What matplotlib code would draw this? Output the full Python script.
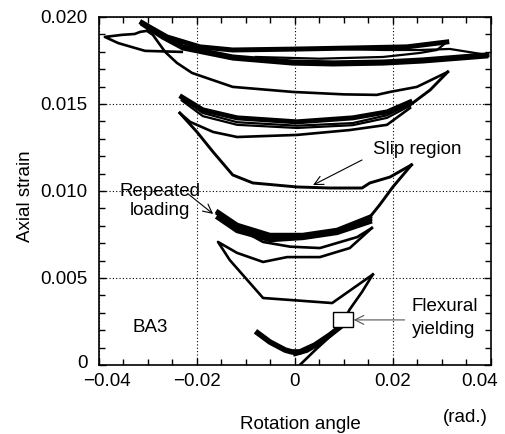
import matplotlib.pyplot as plt
from matplotlib.patches import Rectangle
from matplotlib.ticker import MultipleLocator
from matplotlib.transforms import ScaledTranslation

plt.rcParams['font.family'] = ['Liberation Sans', 'DejaVu Sans']

# Erstbelastung bis Fliessen
load_x = [0.0008, 0.0010, 0.0043, 0.0078, 0.0098, 0.0112, 0.0137, 0.0159]
load_y = [-0.0002, 0.0, 0.0009, 0.0018, 0.0025, 0.0032, 0.0042, 0.0052]

# erster Zyklus (negativ und zurueck)
cyc1_x = [0.0159, 0.0076, -0.0065, -0.0133, -0.0157, -0.0118, -0.0065, -0.0016,
          0.0051, 0.0112, 0.0157]
cyc1_y = [0.0052, 0.00356, 0.00385, 0.00603, 0.00707, 0.00644, 0.00592, 0.0062,
          0.0062, 0.00672, 0.00787]
cyc2_x = [0.0157, 0.0127, 0.0051, -0.0010, -0.0065, -0.0102, -0.0143, -0.0157]
cyc2_y = [0.00787, 0.00735, 0.00672, 0.0068, 0.00707, 0.00764, 0.00845, 0.00874]

# wiederholte Belastung (dickes Band)
rep_x = [-0.0157, -0.0118, -0.0051, 0.0016, 0.0086, 0.0153]
rep_top = [0.00879, 0.00805, 0.00747, 0.00747, 0.00776, 0.00851]
rep_mid = [0.00870, 0.00788, 0.00733, 0.00738, 0.00768, 0.00837]
rep_bot = [0.00845, 0.0077, 0.00718, 0.0073, 0.00759, 0.00822]

# Uebergang und Schlupfbereich
up1_x = [0.0153, 0.0173, 0.0200, 0.0238]
up1_y = [0.0085, 0.0092, 0.01023, 0.0115]
slip_x = [0.0238, 0.0194, 0.0153, 0.0137, 0.0071, 0.0004, -0.0086, -0.0127,
          -0.0167, -0.0200, -0.0235]
slip_y = [0.0115, 0.0108, 0.01046, 0.01017, 0.01017, 0.01023, 0.01046, 0.01092,
          0.01224, 0.01339, 0.01448]

# Gruppe bei 0.014
low2_x = [-0.0235, -0.0214, -0.0167, -0.0118, 0.0004, 0.0112, 0.0188, 0.0235]
low2_y = [0.01448, 0.01397, 0.01339, 0.0131, 0.01322, 0.0135, 0.0138, 0.01477]
grp2_x = [-0.0231, -0.0188, -0.0118, 0.0004, 0.0118, 0.0188, 0.0235]
grp2_top = [0.0154, 0.01466, 0.0142, 0.01397, 0.0142, 0.01454, 0.01511]
grp2_mid = [0.0153, 0.01448, 0.01395, 0.01375, 0.0139, 0.01435, 0.01500]
grp2_bot = [0.0152, 0.0143, 0.0138, 0.01362, 0.01378, 0.01420, 0.01490]

# Uebergang zur Kurve bei 0.016
up2_x = [0.0235, 0.0276, 0.0312]
up2_y = [0.01494, 0.0158, 0.01684]
mid3_x = [0.0312, 0.0249, 0.0194, 0.0167, 0.0100, -0.0004, -0.0127, -0.0210,
          -0.0241, -0.0265, -0.0290, -0.0302]
mid3_y = [0.01684, 0.01598, 0.01569, 0.01552, 0.01555, 0.01569, 0.01598, 0.01678,
          0.01736, 0.01799, 0.01897, 0.0192]

# kleine Schleife links oben
loop_x = [-0.0302, -0.0316, -0.0327, -0.0353, -0.0388, -0.0361, -0.0327, -0.0306, -0.0231]
loop_y = [0.0192, 0.01914, 0.01902, 0.01897, 0.01885, 0.0185, 0.01822, 0.01805, 0.01799]

# oberste Gruppe
top_up_x = [-0.0312, -0.0261, -0.0194, -0.0127, -0.0004, 0.0127, 0.0229, 0.0310]
top_up_y = [0.01966, 0.01885, 0.01828, 0.0181, 0.01815, 0.01822, 0.01828, 0.01856]
top_lo_x = [-0.0312, -0.0270, -0.0229, -0.0127, -0.0004, 0.0078, 0.0180, 0.0261, 0.0392]
top_lo_y = [0.01966, 0.0189, 0.01828, 0.0177, 0.01741, 0.01736, 0.01741, 0.01753, 0.01782]
ret1_x = [0.0310, 0.0290, 0.0255, 0.0180, 0.0050, -0.0080]
ret1_y = [0.01856, 0.0181, 0.01793, 0.0177, 0.0176, 0.0177]
ret2_x = [0.0392, 0.0316, 0.0255, 0.0180, 0.0100]
ret2_y = [0.01782, 0.01816, 0.0181, 0.0181, 0.01815]

# Anfang (dicker Bogen unten)
base_x = [-0.0076, -0.0051, -0.0020, -0.0006, 0.0010, 0.0041, 0.0071, 0.0092]
base_y = [0.00184, 0.00132, 0.00086, 0.00075, 0.00075, 0.00115, 0.00172, 0.00218]
base2_x = [0.0000, 0.0025, 0.0055, 0.0085]
base2_y = [0.0006, 0.0008, 0.0013, 0.0020]

# Fliesspunkt
yield_x = 0.0098
yield_y = 0.00259

fig = plt.figure(figsize=(5.05, 4.34), dpi=100)
ax = fig.add_axes([0.196, 0.159, 0.776, 0.802])

k = 'black'
thin = 1.9
ax.plot(load_x, load_y, color=k, lw=thin)
ax.plot(cyc1_x, cyc1_y, color=k, lw=thin)
ax.plot(cyc2_x, cyc2_y, color=k, lw=thin)
ax.plot(rep_x, rep_top, color=k, lw=3.2)
ax.plot(rep_x, rep_mid, color=k, lw=3.2)
ax.plot(rep_x, rep_bot, color=k, lw=3.2)
ax.plot(up1_x, up1_y, color=k, lw=2.1)
ax.plot(slip_x, slip_y, color=k, lw=2.1)
ax.plot(low2_x, low2_y, color=k, lw=thin)
ax.plot(grp2_x, grp2_top, color=k, lw=3.6)
ax.plot(grp2_x, grp2_mid, color=k, lw=1.6)
ax.plot(grp2_x, grp2_bot, color=k, lw=1.6)
ax.plot(up2_x, up2_y, color=k, lw=2.1)
ax.plot(mid3_x, mid3_y, color=k, lw=thin)
ax.plot(loop_x, loop_y, color=k, lw=thin)
ax.plot(top_up_x, top_up_y, color=k, lw=3.6)
ax.plot(top_lo_x, top_lo_y, color=k, lw=3.6)
ax.plot(top_lo_x, [v - 0.00012 for v in top_lo_y], color=k, lw=2.2)
ax.plot(ret1_x, ret1_y, color=k, lw=1.6)
ax.plot(ret2_x, ret2_y, color=k, lw=1.6)
ax.plot(base_x, base_y, color=k, lw=4.0)
ax.plot(base2_x, base2_y, color=k, lw=2.5)

# Kaestchen fuer Fliessbeginn
ax.add_patch(Rectangle((yield_x - 0.00205, yield_y - 0.00043), 0.0041, 0.00086,
                       facecolor='white', edgecolor=k, lw=1.0, zorder=5))

ax.set_xlim(-0.04, 0.04)
ax.set_ylim(0, 0.020)
ax.set_xticks([-0.04, -0.02, 0, 0.02, 0.04])
ax.set_xticklabels(['\u22120.04', '\u22120.02', '0', '0.02', '0.04'])
ax.set_yticks([0, 0.005, 0.010, 0.015, 0.020])
ax.set_yticklabels(['0', '0.005', '0.010', '0.015', '0.020'])
ax.xaxis.set_minor_locator(MultipleLocator(0.005))
ax.yaxis.set_minor_locator(MultipleLocator(0.001))
ax.tick_params(which='both', direction='in', top=True, right=True, labelsize=13.5)
ax.tick_params(which='major', length=5, width=1.0)
ax.tick_params(which='minor', length=4, width=1.0)
ax.tick_params(axis='x', pad=6)
ax.tick_params(axis='y', pad=8)
ax.grid(True, which='major', color=k, linestyle=(0, (1, 2)), lw=0.8)
for s in ax.spines.values():
    s.set_linewidth(1.2)

# Randbeschriftungen etwas verschieben, damit nichts ueberlappt
xl = ax.get_xticklabels()
xl[0].set_transform(xl[0].get_transform() + ScaledTranslation(8 / 100, 0, fig.dpi_scale_trans))
xl[-1].set_transform(xl[-1].get_transform() + ScaledTranslation(-11 / 100, 0, fig.dpi_scale_trans))
yl = ax.get_yticklabels()
yl[0].set_transform(yl[0].get_transform() + ScaledTranslation(0, 3 / 100, fig.dpi_scale_trans))

pfeil = dict(arrowstyle='->', color=k, lw=0.8, mutation_scale=16, shrinkA=0, shrinkB=0)
ax.text(0.0249, 0.01236, 'Slip region', ha='center', va='center', fontsize=13.5)
ax.annotate('', xy=(0.0037, 0.01034), xytext=(0.0137, 0.01178), arrowprops=pfeil)
ax.text(-0.0276, 0.00943, 'Repeated\nloading', ha='center', va='center',
        fontsize=13.5, linespacing=1.2)
ax.annotate('', xy=(-0.0167, 0.00868), xytext=(-0.0218, 0.00983), arrowprops=pfeil)
ax.text(0.0239, 0.0027, 'Flexural\nyielding', ha='left', va='center',
        fontsize=13.5, linespacing=1.4)
ax.annotate('', xy=(yield_x + 0.0022, yield_y), xytext=(0.0224, yield_y),
            arrowprops=dict(pfeil, color='#555555'))
ax.text(-0.0296, 0.00213, 'BA3', ha='center', va='center', fontsize=13.5)

fig.text(0.594, 0.023, 'Rotation angle', ha='center', va='center', fontsize=13.5)
fig.text(0.921, 0.037, '(rad.)', ha='center', va='center', fontsize=13.5)
fig.text(0.05, 0.548, 'Axial strain', ha='center', va='center', fontsize=13.5,
         rotation=90)

fig.savefig('out.png', dpi=100)
